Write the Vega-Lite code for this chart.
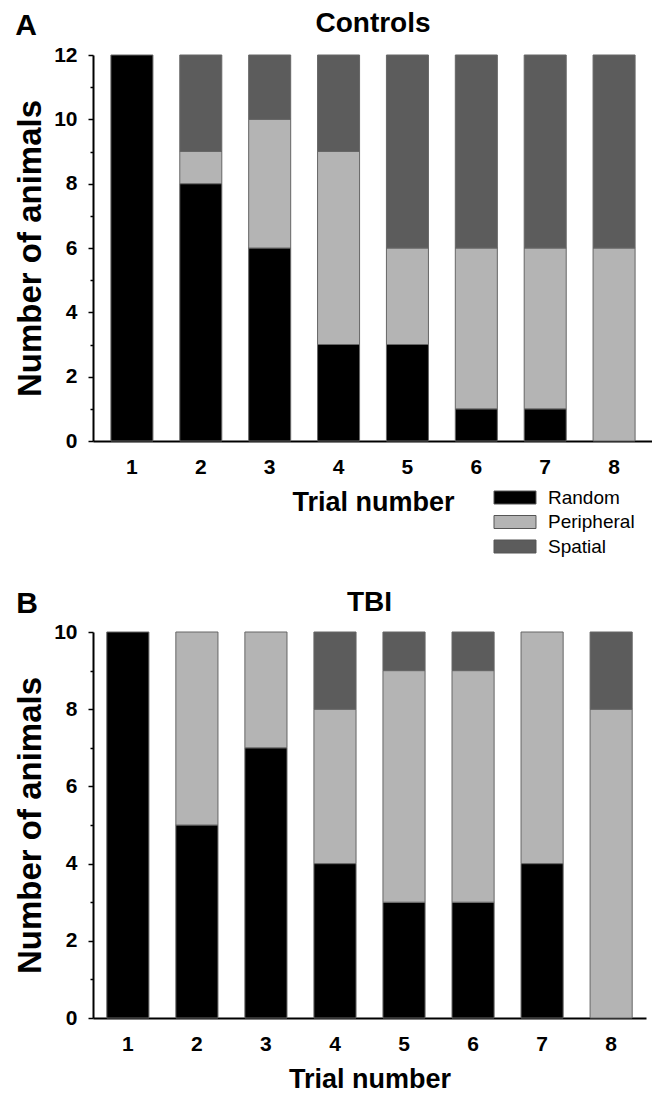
{
  "$schema": "https://vega.github.io/schema/vega-lite/v6.json",
  "padding": {"left": 14, "top": 10, "right": 0, "bottom": 0},
  "background": "white",
  "spacing": 32,
  "columns": 1,
  "align": "none",
  "resolve": {"scale": {"color": "independent"}, "legend": {"color": "independent"}},
  "config": {
    "font": "Liberation Sans",
    "view": {"stroke": null},
    "axis": {
      "grid": false,
      "domainColor": "#000000",
      "tickColor": "#000000",
      "labelColor": "#000000",
      "titleColor": "#000000",
      "labelFont": "Liberation Sans",
      "titleFont": "Liberation Sans",
      "labelFontWeight": "bold",
      "titleFontWeight": "bold",
      "labelFontSize": 21,
      "domainWidth": 2
    },
    "axisX": {"ticks": false, "labelPadding": 15, "titleFontSize": 27, "titlePadding": 12, "labelAngle": 0},
    "axisY": {"tickWidth": 1.5, "labelPadding": 11, "titleFontSize": 33, "titlePadding": 6},
    "title": {"fontSize": 28, "fontWeight": "bold", "color": "#000000", "font": "Liberation Sans"},
    "legend": {
      "labelFont": "Liberation Sans",
      "labelFontSize": 19,
      "labelColor": "#000000",
      "padding": 0,
      "rowPadding": 4.5,
      "labelOffset": 38,
      "symbolType": "M-1,-1L5.46,-1L5.46,1L-1,1Z",
      "symbolSize": 169,
      "symbolStrokeColor": "#555555",
      "symbolStrokeWidth": 1,
      "symbolFillOpacity": 1
    }
  },
  "datasets": {
    "controls": [
      {"trial": 1, "strategy": "Random", "count": 12, "rank": 1},
      {"trial": 2, "strategy": "Random", "count": 8, "rank": 1},
      {"trial": 2, "strategy": "Peripheral", "count": 1, "rank": 2},
      {"trial": 2, "strategy": "Spatial", "count": 3, "rank": 3},
      {"trial": 3, "strategy": "Random", "count": 6, "rank": 1},
      {"trial": 3, "strategy": "Peripheral", "count": 4, "rank": 2},
      {"trial": 3, "strategy": "Spatial", "count": 2, "rank": 3},
      {"trial": 4, "strategy": "Random", "count": 3, "rank": 1},
      {"trial": 4, "strategy": "Peripheral", "count": 6, "rank": 2},
      {"trial": 4, "strategy": "Spatial", "count": 3, "rank": 3},
      {"trial": 5, "strategy": "Random", "count": 3, "rank": 1},
      {"trial": 5, "strategy": "Peripheral", "count": 3, "rank": 2},
      {"trial": 5, "strategy": "Spatial", "count": 6, "rank": 3},
      {"trial": 6, "strategy": "Random", "count": 1, "rank": 1},
      {"trial": 6, "strategy": "Peripheral", "count": 5, "rank": 2},
      {"trial": 6, "strategy": "Spatial", "count": 6, "rank": 3},
      {"trial": 7, "strategy": "Random", "count": 1, "rank": 1},
      {"trial": 7, "strategy": "Peripheral", "count": 5, "rank": 2},
      {"trial": 7, "strategy": "Spatial", "count": 6, "rank": 3},
      {"trial": 8, "strategy": "Peripheral", "count": 6, "rank": 2},
      {"trial": 8, "strategy": "Spatial", "count": 6, "rank": 3}
    ],
    "tbi": [
      {"trial": 1, "strategy": "Random", "count": 10, "rank": 1},
      {"trial": 2, "strategy": "Random", "count": 5, "rank": 1},
      {"trial": 2, "strategy": "Peripheral", "count": 5, "rank": 2},
      {"trial": 3, "strategy": "Random", "count": 7, "rank": 1},
      {"trial": 3, "strategy": "Peripheral", "count": 3, "rank": 2},
      {"trial": 4, "strategy": "Random", "count": 4, "rank": 1},
      {"trial": 4, "strategy": "Peripheral", "count": 4, "rank": 2},
      {"trial": 4, "strategy": "Spatial", "count": 2, "rank": 3},
      {"trial": 5, "strategy": "Random", "count": 3, "rank": 1},
      {"trial": 5, "strategy": "Peripheral", "count": 6, "rank": 2},
      {"trial": 5, "strategy": "Spatial", "count": 1, "rank": 3},
      {"trial": 6, "strategy": "Random", "count": 3, "rank": 1},
      {"trial": 6, "strategy": "Peripheral", "count": 6, "rank": 2},
      {"trial": 6, "strategy": "Spatial", "count": 1, "rank": 3},
      {"trial": 7, "strategy": "Random", "count": 4, "rank": 1},
      {"trial": 7, "strategy": "Peripheral", "count": 6, "rank": 2},
      {"trial": 8, "strategy": "Peripheral", "count": 8, "rank": 2},
      {"trial": 8, "strategy": "Spatial", "count": 2, "rank": 3}
    ]
  },
  "concat": [
    {
      "title": {"text": "A", "anchor": "start", "frame": "bounds", "fontSize": 30, "offset": 0, "dy": 31, "dx": 0.5},
      "resolve": {"scale": {"color": "independent"}, "legend": {"color": "independent"}},
      "vconcat": [
        {
          "title": {"text": "Controls", "offset": 6, "frame": "group", "anchor": "middle"},
          "width": 560,
          "height": 386,
          "data": {"name": "controls"},
          "mark": {"type": "bar", "stroke": "#666666", "strokeWidth": 1},
          "encoding": {
            "x": {
              "field": "trial",
              "type": "ordinal",
              "title": "Trial number",
              "scale": {"paddingInner": 0.39, "paddingOuter": 0.26}
            },
            "y": {
              "field": "count",
              "type": "quantitative",
              "stack": "zero",
              "title": "Number of animals",
              "scale": {"domain": [0, 12], "nice": false},
              "axis": {
                "values": [0, 1, 2, 3, 4, 5, 6, 7, 8, 9, 10, 11, 12],
                "labelExpr": "datum.value % 2 == 0 ? datum.label : ''",
                "tickSize": {"condition": {"test": "datum.value % 2 == 0", "value": 5}, "value": 3}
              }
            },
            "color": {
              "field": "strategy",
              "type": "nominal",
              "scale": {"domain": ["Random", "Peripheral", "Spatial"], "range": ["#000000", "#b4b4b4", "#5c5c5c"]},
              "legend": {"title": null, "orient": "none", "legendX": 398, "legendY": 433, "direction": "vertical"}
            },
            "order": {"field": "rank", "type": "quantitative"}
          }
        }
      ]
    },
    {
      "title": {"text": "B", "anchor": "start", "frame": "bounds", "fontSize": 30, "offset": 0, "dy": 30, "dx": 1.5},
      "resolve": {"scale": {"color": "independent"}, "legend": {"color": "independent"}},
      "vconcat": [
        {
          "title": {"text": "TBI", "offset": 4, "frame": "group", "anchor": "middle"},
          "width": 553,
          "height": 386,
          "data": {"name": "tbi"},
          "mark": {"type": "bar", "stroke": "#666666", "strokeWidth": 1},
          "encoding": {
            "x": {
              "field": "trial",
              "type": "ordinal",
              "title": "Trial number",
              "scale": {"paddingInner": 0.39, "paddingOuter": 0.2},
              "axis": {"titlePadding": 12}
            },
            "y": {
              "field": "count",
              "type": "quantitative",
              "stack": "zero",
              "title": "Number of animals",
              "scale": {"domain": [0, 10], "nice": false},
              "axis": {
                "values": [0, 1, 2, 3, 4, 5, 6, 7, 8, 9, 10],
                "labelExpr": "datum.value % 2 == 0 ? datum.label : ''",
                "tickSize": {"condition": {"test": "datum.value % 2 == 0", "value": 5}, "value": 3}
              }
            },
            "color": {
              "field": "strategy",
              "type": "nominal",
              "scale": {"domain": ["Random", "Peripheral", "Spatial"], "range": ["#000000", "#b4b4b4", "#5c5c5c"]},
              "legend": null
            },
            "order": {"field": "rank", "type": "quantitative"}
          }
        }
      ]
    }
  ]
}
